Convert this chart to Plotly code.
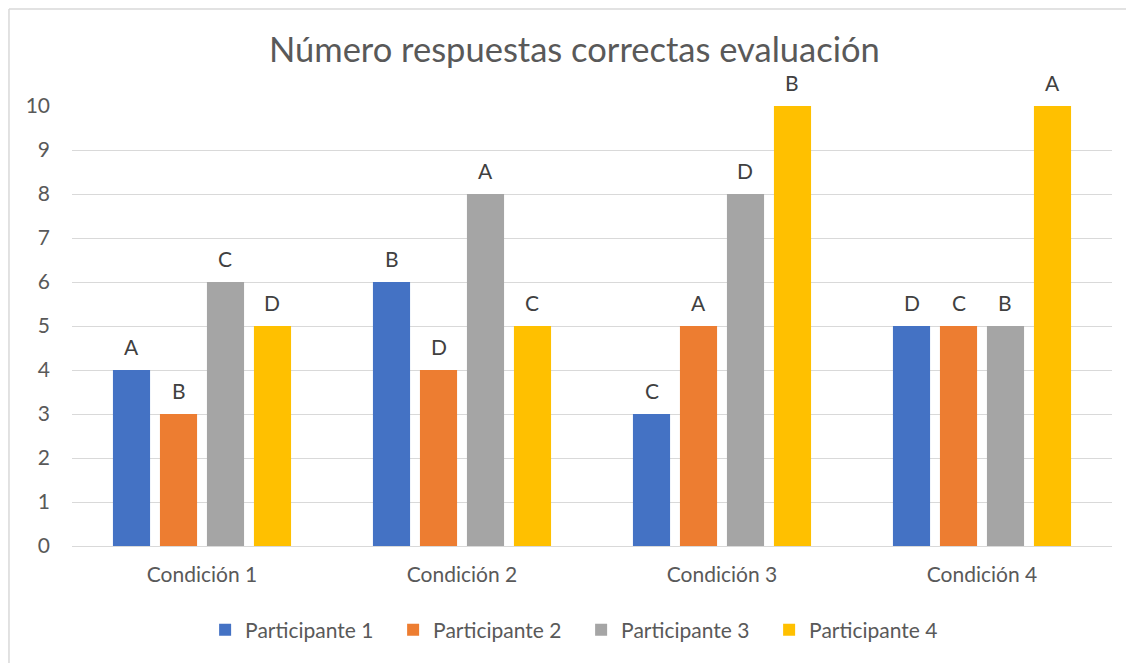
import plotly.graph_objects as go

categories = ["Condición 1", "Condición 2", "Condición 3", "Condición 4"]
participants = ["Participante 1", "Participante 2", "Participante 3", "Participante 4"]

p1_values = [4, 6, 3, 5]
p2_values = [3, 4, 5, 5]
p3_values = [6, 8, 8, 5]
p4_values = [5, 5, 10, 10]

p1_labels = ["A", "B", "C", "D"]
p2_labels = ["B", "D", "A", "C"]
p3_labels = ["C", "A", "D", "B"]
p4_labels = ["D", "C", "B", "A"]

colors = ["#4472C4", "#ED7D31", "#A5A5A5", "#FFC000"]
font_family = "Lato, 'Open Sans', sans-serif"

series = [p1_values, p2_values, p3_values, p4_values]
labels = [p1_labels, p2_labels, p3_labels, p4_labels]

# layout geometry
margin_l, margin_r = 64, 22
fig_w = 1126
bargap = 0.277
plot_w = fig_w - margin_l - margin_r
slot_px = plot_w / len(categories) * (1 - bargap) / len(participants)

fig = go.Figure()
for name, vals, col in zip(participants, series, colors):
    fig.add_trace(go.Bar(
        x=categories, y=vals, name=name,
        marker=dict(color=col, line=dict(width=0)),
    ))

# letters above each bar
for i, (vals, txt) in enumerate(zip(series, labels)):
    for cat, v, t in zip(categories, vals, txt):
        fig.add_annotation(
            x=cat, y=v, text=t, showarrow=False,
            xshift=(i - (len(participants) - 1) / 2) * slot_px,
            yshift=24, yanchor="middle",
            font=dict(size=21, color="#404040", family=font_family),
        )

fig.update_layout(
    width=fig_w, height=655,
    margin=dict(l=margin_l, r=margin_r, t=98, b=117),
    paper_bgcolor="white", plot_bgcolor="white",
    font=dict(family=font_family, color="#595959", size=21),
    title=dict(text="Número respuestas correctas evaluación",
               x=0.503, xref="container", xanchor="center",
               y=0.936, yref="container", yanchor="middle",
               font=dict(size=34.5, color="#595959", family=font_family)),
    barmode="group", bargap=bargap, bargroupgap=0.21,
    showlegend=True,
    legend=dict(orientation="h", x=0.128, xanchor="left", y=-0.191, yanchor="middle",
                font=dict(size=21, color="#595959"), itemwidth=30,
                entrywidth=143, traceorder="normal"),
)
fig.update_yaxes(range=[0, 10], dtick=1, showgrid=True, gridcolor="#D9D9D9", gridwidth=1.3,
                 zeroline=False, showline=False, ticks="", ticklabelstandoff=21,
                 tickfont=dict(size=21, color="#595959"))
fig.update_xaxes(showline=True, linecolor="#D9D9D9", linewidth=1.3, ticks="",
                 tickfont=dict(size=21, color="#595959"), ticklabelstandoff=10)

# chart border (top and left edges visible in crop)
fig.add_shape(type="line", xref="paper", yref="paper", x0=-0.0606, x1=1.03, y0=1.2205, y1=1.2205,
              line=dict(color="#D9D9D9", width=1.5))
fig.add_shape(type="line", xref="paper", yref="paper", x0=-0.0606, x1=-0.0606, y0=1.2205, y1=-0.28,
              line=dict(color="#D9D9D9", width=1.5))

fig.write_html("out.html")
